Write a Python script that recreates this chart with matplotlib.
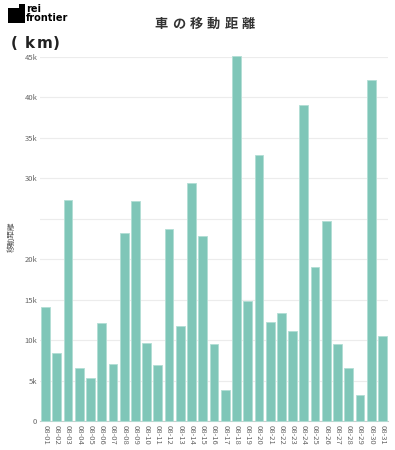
import matplotlib
matplotlib.use("Agg")
import matplotlib.pyplot as plt
from matplotlib.patches import Polygon
from matplotlib.ticker import FuncFormatter

plt.rcParams['font.family'] = ['Noto Sans CJK JP', 'DejaVu Sans']

dates = ["08-%02d" % d for d in range(1, 32)]
distance = [14.1, 8.4, 27.3, 6.6, 5.3, 12.1, 7.0, 23.2, 27.2, 9.6,
            6.9, 23.7, 11.7, 29.4, 22.9, 9.5, 3.8, 45.1, 14.8, 32.9,
            12.2, 13.3, 11.1, 39.1, 19.0, 24.7, 9.5, 6.5, 3.2, 42.1, 10.5]
distance_km = [v * 1000 for v in distance]
yticks = [0, 5000, 10000, 15000, 20000, 25000, 30000, 35000, 40000, 45000]

W, H = 395, 450
fig = plt.figure(figsize=(W / 100, H / 100), dpi=100)
ax = fig.add_axes([40 / W, (H - 421) / H, 348 / W, 364 / H])

x = list(range(len(dates)))
ax.bar(x, distance_km, width=0.78, color='#7fc6b8', edgecolor='#b2ded5',
       linewidth=0.6, zorder=3, clip_on=False)
ax.set_xlim(-0.5, len(dates) - 0.5)
ax.set_ylim(0, 45000)
ax.set_yticks(yticks)

def fmt(v, pos):
    if v == 0:
        return "0"
    if v == 25000:
        return ""
    return "%dk" % (v / 1000)

ax.yaxis.set_major_formatter(FuncFormatter(fmt))
ax.set_xticks(x)
ax.set_xticklabels(dates, rotation=-90)
ax.tick_params(axis='both', length=0, labelsize=5.5, colors='#666666')
ax.tick_params(axis='y', pad=2)
ax.tick_params(axis='x', pad=3)
ax.grid(axis='y', color='#ececec', linewidth=0.8, zorder=0)
for s in ['top', 'right', 'left']:
    ax.spines[s].set_visible(False)
ax.spines['bottom'].set_color('#cccccc')
ax.spines['bottom'].set_linewidth(0.8)

# y-axis title
fig.text(12 / W, 1 - 237 / H, "移動距離", rotation=90, fontsize=5.5,
         color='#555555', ha='center', va='center')

# title with spacing
title = "車の移動距離"
x0, step = 161, 17.5
for i, ch in enumerate(title):
    fig.text((x0 + i * step) / W, 1 - 24 / H, ch, fontsize=9.5,
             fontweight='bold', color='#333333', ha='center', va='center')

# unit label, spaced characters
unit_chars = ["(", "k", "m", ")"]
unit_x = [14, 30, 45, 56]
for ch, ux in zip(unit_chars, unit_x):
    fig.text(ux / W, 1 - 43 / H, ch, fontsize=11, fontweight='bold',
             color='#222222', ha='center', va='center', family='DejaVu Sans')

# logo
pts = [(px, H - py) for px, py in [(8, 8), (19, 8), (19, 4), (25, 4), (25, 23), (8, 23)]]
logo = Polygon(pts, closed=True, transform=None, facecolor='black', edgecolor='none')
fig.patches.append(logo)
fig.text(26 / W, 1 - 9 / H, "rei", fontsize=7, fontweight='bold',
         color='black', ha='left', va='center', family='DejaVu Sans')
fig.text(26 / W, 1 - 18 / H, "frontier", fontsize=7, fontweight='bold',
         color='black', ha='left', va='center', family='DejaVu Sans')

fig.savefig("out.png", dpi=100)
